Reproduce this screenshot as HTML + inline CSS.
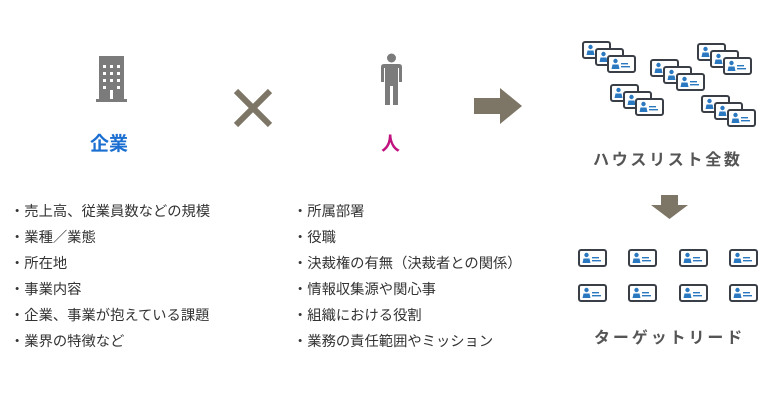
<!DOCTYPE html>
<html><head><meta charset="utf-8"><style>
html,body{margin:0;padding:0;background:#fff;}
body{width:760px;height:400px;position:relative;overflow:hidden;font-family:"Liberation Sans","Noto Sans CJK JP",sans-serif;}
.t{position:absolute;white-space:nowrap;}
.li{font-size:14.3px;color:#333;line-height:26px;}
</style></head><body>
<svg width="760" height="400" style="position:absolute;left:0;top:0">
<defs>
<g id="card">
<rect x="1" y="1" width="27" height="16" rx="2" fill="#fff" stroke="#3a3f47" stroke-width="2"/>
<circle cx="8.5" cy="6" r="2.2" fill="#2a78c0"/>
<path d="M4.5 14 L5.5 9.5 L11.5 9.5 L12.5 14 Z" fill="#2a78c0"/>
<rect x="14" y="8" width="7" height="1.4" fill="#2a78c0"/>
<rect x="14" y="11" width="9" height="1.4" fill="#2a78c0"/>
</g>
</defs>
<g fill="#7b7b7b">
<rect x="99" y="56" width="25" height="45"/>
<rect x="96" y="99" width="31" height="3"/>
</g>
<g fill="#fff">
<rect x="103" y="65" width="3" height="3"/><rect x="110" y="65" width="3" height="3"/><rect x="117" y="65" width="3" height="3"/>
<rect x="103" y="72" width="3" height="3"/><rect x="110" y="72" width="3" height="3"/><rect x="117" y="72" width="3" height="3"/>
<rect x="103" y="79" width="3" height="3"/><rect x="110" y="79" width="3" height="3"/><rect x="117" y="79" width="3" height="3"/>
<rect x="103" y="86" width="3" height="3"/><rect x="117" y="86" width="3" height="3"/>
<rect x="110" y="90" width="3" height="9"/>
</g>
<path d="M236 91 L270 125 M270 91 L236 125" stroke="#7d7565" stroke-width="6"/>
<g fill="#7b7b7b">
<circle cx="391.5" cy="58" r="4.5"/>
<path d="M384 64 H399 Q402 64 402 67 V82 H399 V68 H398 V105 H393 V86 H390 V105 H385 V68 H384 V82 H381 V67 Q381 64 384 64 Z"/>
</g>
<path d="M474 98 H500 V88 L522 106 L500 124 V114 H474 Z" fill="#7d7565"/>
<path d="M661 195 H678 V205 H688 L669.5 219 L651 205 H661 Z" fill="#7d7565"/>
<use href="#card" x="582" y="41"/><use href="#card" x="595" y="48"/><use href="#card" x="607" y="55"/>
<use href="#card" x="650" y="59"/><use href="#card" x="663" y="66"/><use href="#card" x="676" y="73"/>
<use href="#card" x="697" y="43"/><use href="#card" x="710" y="50"/><use href="#card" x="723" y="57"/>
<use href="#card" x="610" y="84"/><use href="#card" x="623" y="91"/><use href="#card" x="635" y="98"/>
<use href="#card" x="701" y="95"/><use href="#card" x="714" y="102"/><use href="#card" x="727" y="109"/>
<use href="#card" x="578" y="249"/><use href="#card" x="628" y="249"/><use href="#card" x="679" y="249"/><use href="#card" x="729" y="249"/>
<use href="#card" x="578" y="284"/><use href="#card" x="628" y="284"/><use href="#card" x="679" y="284"/><use href="#card" x="729" y="284"/>
</svg>
<div class="t" style="left:90px;top:129px;font-size:19px;font-weight:bold;color:#1a6fd1;">企業</div>
<div class="t" style="left:381px;top:129px;font-size:19px;font-weight:bold;color:#c0137f;">人</div>
<div class="t" style="left:593px;top:146px;font-size:16px;font-weight:bold;color:#555;letter-spacing:2.7px;">ハウスリスト全数</div>
<div class="t" style="left:594px;top:324px;font-size:16px;font-weight:bold;color:#555;letter-spacing:2.9px;">ターゲットリード</div>
<div class="t li" style="left:10px;top:199px;">・売上高、従業員数などの規模<br>・業種／業態<br>・所在地<br>・事業内容<br>・企業、事業が抱えている課題<br>・業界の特徴など</div>
<div class="t li" style="left:293px;top:199px;">・所属部署<br>・役職<br>・決裁権の有無（決裁者との関係）<br>・情報収集源や関心事<br>・組織における役割<br>・業務の責任範囲やミッション</div>
</body></html>
